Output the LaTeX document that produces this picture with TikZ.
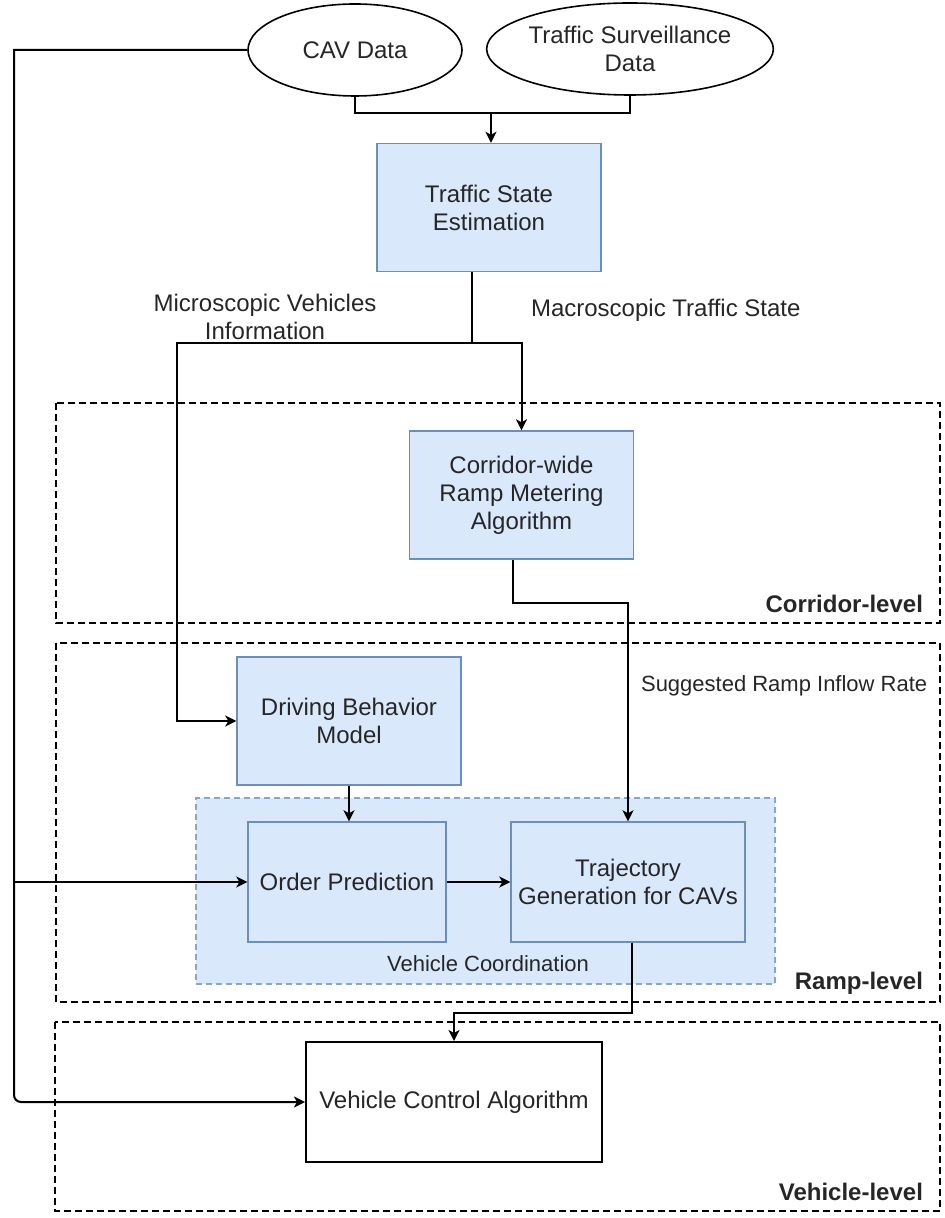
\documentclass[tikz,border=0pt]{standalone}
\usepackage{fontspec}
\setmainfont{Liberation Sans}
\usetikzlibrary{shapes.geometric,arrows.meta}
\definecolor{boxfill}{HTML}{DAE8FC}
\definecolor{boxline}{HTML}{6C8EBF}

\begin{document}
\begin{tikzpicture}[x=0.5pt, y=-0.5pt,
	every node/.style={font=\fontsize{12}{14}\selectfont, text=black!85},
	block/.style={draw=boxline, fill=boxfill, line width=0.7pt, minimum width=112pt, minimum height=64pt, align=center, inner sep=0pt},
	data/.style={draw, ellipse, line width=0.8pt, minimum height=46pt, align=center, inner sep=0pt},
	flow/.style={line width=1pt, -{Stealth[length=5.5pt, width=5.5pt, inset=1.5pt]}},
	link/.style={line width=1pt},
	level/.style={draw, dash pattern=on 3.5pt off 2pt, line width=0.9pt},
	tag/.style={font=\bfseries\fontsize{12}{14}\selectfont, anchor=east},
	note/.style={font=\fontsize{11}{13}\selectfont}]
	\useasboundingbox (0,0) rectangle (945,1218);

	% levels
	\draw[level] (56,403) rectangle (940,623);
	\draw[level] (56,643) rectangle (940,1002);
	\draw[level] (55,1022) rectangle (940,1211);
	\node[tag] at (930,604) {Corridor-level};
	\node[tag] at (930,983) {Ramp-level};
	\node[tag] at (930,1192) {Vehicle-level};

	\node[draw=boxline!80, fill=boxfill, dash pattern=on 3pt off 2pt, line width=0.6pt, minimum width=289.5pt, minimum height=93pt] (vc) at (485.5,891) {};
	\node[note] at (488,964) {Vehicle Coordination};

	% data sources
	\node[data, minimum width=107pt] (cav) at (355,50) {CAV Data};
	\node[data, minimum width=132pt] (tsd) at (630,49) {Traffic Surveillance\\Data};

	% blocks
	\node[block] (tse) at (489,207.5) {Traffic State\\Estimation};
	\node[block] (crm) at (521.5,495) {Corridor-wide\\Ramp Metering\\Algorithm};
	\node[block] (dbm) at (349,721) {Driving Behavior\\Model};
	\node[block, minimum width=99pt, minimum height=60pt] (op) at (347,882) {Order Prediction};
	\node[block, minimum width=117pt, minimum height=60pt] (tg) at (628,882) {Trajectory\\Generation for CAVs};
	\node[draw, fill=white, line width=1pt, minimum width=148pt, minimum height=60pt] (vca) at (454,1102) {Vehicle Control Algorithm};

	% connectors
	\coordinate (merge) at (491,113);
	\coordinate (split) at (472,343);
	\coordinate (lft) at (14,1102);
	\draw[link] (cav.south) |- (merge);
	\draw[link] (tsd.south) |- (merge);
	\draw[flow] (merge) -- (merge |- tse.north);

	\draw[link] (split |- tse.south) -- (split);
	\draw[flow] (split) -| (crm.north);
	\draw[flow] (split) -- (177,343) |- (dbm.west);

	\draw[flow] ([xshift=-4.5pt]crm.south) -- ++(0,43) -| (tg.north);
	\draw[flow] (dbm.south) -- (dbm.south |- op.north);
	\draw[flow] (op.east) -- (tg.west);
	\draw[flow] ([xshift=2pt]tg.south) -- ++(0,70) -| (vca.north);

	\draw[flow] (cav.west) -- (14,50) [rounded corners=3.5pt] -- (lft) -- (vca.west);
	\draw[flow] (op.west -| lft) -- (op.west);

	% labels
	\node[align=center] at (265,317) {Microscopic Vehicles\\Information};
	\node[anchor=west] at (524,310) {Macroscopic Traffic State};
	\node[note, anchor=west] at (634,686) {Suggested Ramp Inflow Rate};
\end{tikzpicture}
\end{document}
